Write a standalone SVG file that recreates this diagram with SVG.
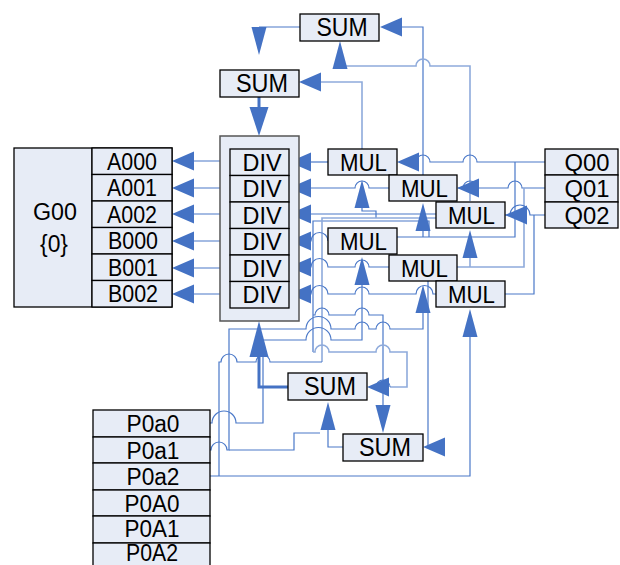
<svg xmlns="http://www.w3.org/2000/svg" xmlns:xlink="http://www.w3.org/1999/xlink" width="620" height="565" viewBox="0 0 620 565">
<style>
.box{fill:#E7ECF6;stroke:#000;stroke-width:1.3}
.cont{fill:#E7ECF6;stroke:#555;stroke-width:1.5}
.t{font-family:"Liberation Sans",Arial,sans-serif;font-size:23.5px;text-anchor:middle;fill:#000}
.b{font-size:26px}
.w{fill:none;stroke:#4A78C8;stroke-width:1.2}
.l{fill:none;stroke:#8EAADB;stroke-width:1.6}
.k{fill:none;stroke:#4472C4;stroke-width:3}
.ah{fill:#4472C4}
</style>
<defs>
<polygon id="aL" points="0,0 22,-9.5 22,9.5"/>
<polygon id="aU" points="0,0 -7.5,28 7.5,28"/>
<polygon id="aD" points="0,0 -7.5,-28 7.5,-28"/>
<polygon id="bD" points="0,0 -9.5,-29 9.5,-29"/>
<polygon id="bU" points="0,0 -9.5,36 9.5,36"/>
</defs>
<rect width="620" height="565" fill="#fff"/>

<g id="connectors">
<path class="w" d="M300,27 H259"/>
<path class="k" d="M259,97 V108"/>
<path class="w" d="M423,175 V27 H402"/>
<path class="l" d="M340,68 V66 H416 a7,7 0 0 1 14,0 H470 V201"/>
<path class="l" d="M362,149 V82 H321"/>
<path class="w" d="M416,162 a7,7 0 0 1 14,0 H463 a7,7 0 0 1 14,0 H545"/>
<path class="w" d="M515,162 V237 H397"/>
<path class="w" d="M423,231 V237"/>
<path class="w" d="M429,237 V221 H313 V352"/>
<path class="w" d="M458,188 H463 a7,7 0 0 1 14,0 H508 a7,7 0 0 1 14,0 H545"/>
<path class="l" d="M524,188 V267 H457"/>
<path class="l" d="M470,258 V267"/>
<path class="w" d="M505,215 H510 a10,10 0 0 1 20,0 H545"/>
<path class="w" d="M534,215 V294 H505"/>
<path class="w" d="M300,162 H328"/>
<path class="w" d="M300,188 H355 a7,7 0 0 1 14,0 H389"/>
<path class="w" d="M300,214 H436"/>
<path class="w" d="M362,205 V211 H376 V218"/>
<path class="l" d="M322,362 V218 H436"/>
<path class="w" d="M300,241 H311 a8.5,8.5 0 0 1 17,0"/>
<path class="w" d="M300,267 H311 a8.5,8.5 0 0 1 17,0 H355 a7,7 0 0 1 14,0 H389"/>
<path class="w" d="M300,294 H311 a8.5,8.5 0 0 1 17,0 H355 a7,7 0 0 1 14,0 H416 a8.5,8.5 0 0 1 17,0 H436"/>
<path class="w" d="M210,423 H212 a12,12 0 0 1 24,0 H263 V340 H306 a12.5,12.5 0 0 1 25,0 H362 V285"/>
<path class="w" d="M210,450 H211 a8,8 0 0 1 16,0 H229 V329 H306 a12.5,12.5 0 0 1 25,0 H355 a7,7 0 0 1 14,0 H376 a7,7 0 0 1 14,0 H423 V312"/>
<path class="w" d="M229,450 H294 V433 H320"/>
<path class="w" d="M210,476 H470 V337"/>
<path class="w" d="M219,476 V362 H221 a8,8 0 0 1 16,0 H256 a7,7 0 0 1 14,0 H322"/>
<path class="w" d="M313,315 H315 a7,7 0 0 1 14,0 H355 a7,7 0 0 1 14,0 H383 V405"/>
<path class="l" d="M313,352 H315 a7,7 0 0 1 14,0 H376 a7,7 0 0 1 14,0 H407 V387 H390"/>
<path class="w" d="M376,387 a7,7 0 0 1 14,0"/>
<path class="k" d="M288,387 H259 V357"/>
<path class="w" d="M343,447 H328 V430"/>
<path class="w" d="M428,281 V447"/>
<path class="w" d="M193,161 H230 M193,188 H230 M193,214 H230 M193,241 H230 M193,268 H230 M193,294 H230"/>
<g class="ah">
<use xlink:href="#aD" x="259" y="55"/>
<use xlink:href="#bD" x="259" y="136"/>
<use xlink:href="#aL" x="380" y="27"/>
<use xlink:href="#aU" x="340" y="41"/>
<use xlink:href="#aL" x="299" y="82"/>
<use xlink:href="#aL" x="397" y="162"/>
<use xlink:href="#aL" x="457" y="188"/>
<use xlink:href="#aL" x="505" y="215"/>
<use xlink:href="#aL" x="172" y="161"/>
<use xlink:href="#aL" x="172" y="188"/>
<use xlink:href="#aL" x="172" y="214"/>
<use xlink:href="#aL" x="172" y="241"/>
<use xlink:href="#aL" x="172" y="268"/>
<use xlink:href="#aL" x="172" y="294"/>
<use xlink:href="#aL" x="289" y="162"/>
<use xlink:href="#aL" x="289" y="188"/>
<use xlink:href="#aL" x="289" y="214"/>
<use xlink:href="#aL" x="289" y="241"/>
<use xlink:href="#aL" x="289" y="267"/>
<use xlink:href="#aL" x="289" y="294"/>
<use xlink:href="#aU" x="362" y="180"/>
<use xlink:href="#aU" x="423" y="203"/>
<use xlink:href="#aU" x="470" y="230"/>
<use xlink:href="#aU" x="362" y="257"/>
<use xlink:href="#aU" x="423" y="285"/>
<use xlink:href="#aU" x="470" y="309"/>
<use xlink:href="#bU" x="259" y="321"/>
<use xlink:href="#aU" x="328" y="402"/>
<use xlink:href="#aD" x="383" y="433"/>
<use xlink:href="#aL" x="367" y="387"/>
<use xlink:href="#aL" x="423" y="447"/>
</g>
</g>

<g id="G00">
<rect class="box" x="14" y="148" width="158" height="159"/>
<line x1="92" y1="148" x2="92" y2="307" stroke="#000" stroke-width="1.3"/>
<text class="t" x="55" y="220" font-size="27" textLength="44" lengthAdjust="spacingAndGlyphs">G00</text>
<text class="t" x="54" y="252" font-size="24" textLength="28" lengthAdjust="spacingAndGlyphs">{0}</text>
</g>
<g id="A000"><rect class="box" x="92" y="148" width="80" height="26.5"/><text class="t" x="132" y="169.5" textLength="50" lengthAdjust="spacingAndGlyphs">A000</text></g>
<g id="A001"><rect class="box" x="92" y="174.5" width="80" height="26.5"/><text class="t" x="132" y="196" textLength="50" lengthAdjust="spacingAndGlyphs">A001</text></g>
<g id="A002"><rect class="box" x="92" y="201" width="80" height="26.5"/><text class="t" x="132" y="222.5" textLength="50" lengthAdjust="spacingAndGlyphs">A002</text></g>
<g id="B000"><rect class="box" x="92" y="227.5" width="80" height="26.5"/><text class="t" x="133" y="249" textLength="50" lengthAdjust="spacingAndGlyphs">B000</text></g>
<g id="B001"><rect class="box" x="92" y="254" width="80" height="26.5"/><text class="t" x="133" y="275.5" textLength="50" lengthAdjust="spacingAndGlyphs">B001</text></g>
<g id="B002"><rect class="box" x="92" y="280.5" width="80" height="26.5"/><text class="t" x="133" y="302" textLength="50" lengthAdjust="spacingAndGlyphs">B002</text></g>

<g id="DIVS">
<rect class="cont" x="220" y="136" width="79" height="185"/>
</g>
<g id="DIV0"><rect class="box" x="230" y="149" width="59" height="26.5"/><text class="t" x="262" y="170.5" textLength="39" lengthAdjust="spacingAndGlyphs">DIV</text></g>
<g id="DIV1"><rect class="box" x="230" y="175.5" width="59" height="26.5"/><text class="t" x="262" y="197" textLength="39" lengthAdjust="spacingAndGlyphs">DIV</text></g>
<g id="DIV2"><rect class="box" x="230" y="202" width="59" height="26.5"/><text class="t" x="262" y="223.5" textLength="39" lengthAdjust="spacingAndGlyphs">DIV</text></g>
<g id="DIV3"><rect class="box" x="230" y="228.5" width="59" height="26.5"/><text class="t" x="262" y="250" textLength="39" lengthAdjust="spacingAndGlyphs">DIV</text></g>
<g id="DIV4"><rect class="box" x="230" y="255" width="59" height="26.5"/><text class="t" x="262" y="276.5" textLength="39" lengthAdjust="spacingAndGlyphs">DIV</text></g>
<g id="DIV5"><rect class="box" x="230" y="281.5" width="59" height="26.5"/><text class="t" x="262" y="303" textLength="39" lengthAdjust="spacingAndGlyphs">DIV</text></g>

<g id="SUM0"><rect class="box" x="300" y="14" width="79" height="27"/><text class="t b" x="342" y="36" textLength="51" lengthAdjust="spacingAndGlyphs">SUM</text></g>
<g id="SUM1"><rect class="box" x="220" y="70" width="79" height="27"/><text class="t b" x="262" y="92" textLength="52" lengthAdjust="spacingAndGlyphs">SUM</text></g>
<g id="SUM2"><rect class="box" x="288" y="373" width="79" height="27"/><text class="t b" x="330" y="395" textLength="52" lengthAdjust="spacingAndGlyphs">SUM</text></g>
<g id="SUM3"><rect class="box" x="343" y="434" width="80" height="27"/><text class="t b" x="385" y="456" textLength="52" lengthAdjust="spacingAndGlyphs">SUM</text></g>

<g id="MUL0"><rect class="box" x="328" y="149" width="69" height="26"/><text class="t" x="363.5" y="170.5" textLength="47" lengthAdjust="spacingAndGlyphs">MUL</text></g>
<g id="MUL1"><rect class="box" x="389" y="175" width="68" height="26"/><text class="t" x="424.5" y="196.5" textLength="47" lengthAdjust="spacingAndGlyphs">MUL</text></g>
<g id="MUL2"><rect class="box" x="436" y="202" width="69" height="26"/><text class="t" x="471.5" y="223.5" textLength="47" lengthAdjust="spacingAndGlyphs">MUL</text></g>
<g id="MUL3"><rect class="box" x="328" y="228" width="69" height="26"/><text class="t" x="363.5" y="249.5" textLength="47" lengthAdjust="spacingAndGlyphs">MUL</text></g>
<g id="MUL4"><rect class="box" x="389" y="255" width="68" height="26"/><text class="t" x="424.5" y="276.5" textLength="47" lengthAdjust="spacingAndGlyphs">MUL</text></g>
<g id="MUL5"><rect class="box" x="436" y="281" width="69" height="26"/><text class="t" x="471.5" y="302.5" textLength="47" lengthAdjust="spacingAndGlyphs">MUL</text></g>

<g id="Q00"><rect class="box" x="545" y="149" width="73" height="26"/><text class="t" x="587" y="170.5" textLength="45" lengthAdjust="spacingAndGlyphs">Q00</text></g>
<g id="Q01"><rect class="box" x="545" y="175" width="73" height="27"/><text class="t" x="587" y="197" textLength="45" lengthAdjust="spacingAndGlyphs">Q01</text></g>
<g id="Q02"><rect class="box" x="545" y="202" width="73" height="26"/><text class="t" x="587" y="223.5" textLength="45" lengthAdjust="spacingAndGlyphs">Q02</text></g>

<g id="P0a0"><rect class="box" x="93" y="410" width="117" height="27"/><text class="t" x="153" y="432" textLength="53" lengthAdjust="spacingAndGlyphs">P0a0</text></g>
<g id="P0a1"><rect class="box" x="93" y="437" width="117" height="26"/><text class="t" x="153" y="458.5" textLength="53" lengthAdjust="spacingAndGlyphs">P0a1</text></g>
<g id="P0a2"><rect class="box" x="93" y="463" width="117" height="27"/><text class="t" x="153" y="485" textLength="53" lengthAdjust="spacingAndGlyphs">P0a2</text></g>
<g id="P0A0"><rect class="box" x="93" y="490" width="117" height="26"/><text class="t" x="152" y="511.5" textLength="55" lengthAdjust="spacingAndGlyphs">P0A0</text></g>
<g id="P0A1"><rect class="box" x="93" y="516" width="117" height="27"/><text class="t" x="152" y="537" textLength="55" lengthAdjust="spacingAndGlyphs">P0A1</text></g>
<g id="P0A2"><rect class="box" x="93" y="543" width="117" height="27"/><text class="t" x="152" y="561" font-size="17" textLength="52" lengthAdjust="spacingAndGlyphs">P0A2</text></g>
</svg>
